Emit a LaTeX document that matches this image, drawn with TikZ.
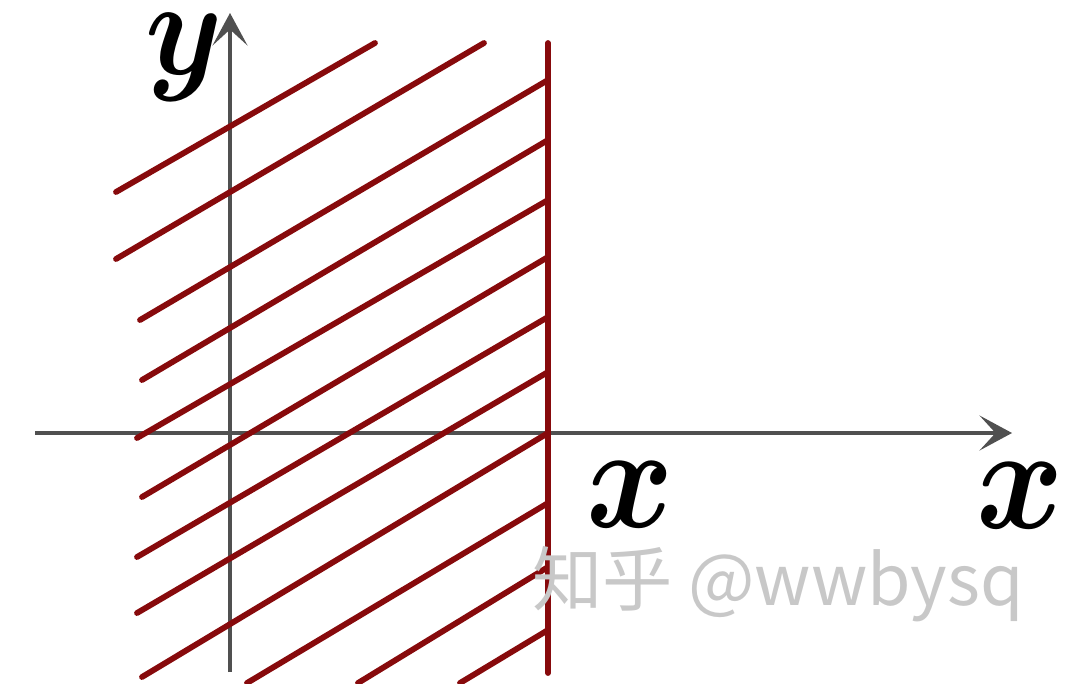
\RequirePackage{fix-cm}
\documentclass[tikz,border=0pt]{standalone}
\usepackage{bm}
\usepackage{fontspec}
\setmainfont{Liberation Serif}
\newfontfamily\cjkfont{Noto Sans CJK SC}
\usepackage{xcolor}
\usepackage{tikz}
\usetikzlibrary{
  arrows.meta,
  positioning
}
\definecolor{HatchRed}{RGB}{135, 10, 12}
\definecolor{AxisGray}{RGB}{80, 80, 80}
\definecolor{MarkGray}{RGB}{200, 200, 200}

\begin{document}
\begin{tikzpicture}[x=0.02cm, y=-0.02cm,
    axisline/.style={draw=AxisGray, line width=1.9pt,
        -{Stealth[length=6.5mm, width=7mm, inset=3.2mm]}},
    hatchline/.style={draw=HatchRed, line width=3.3pt, line cap=round},
    varlabel/.style={inner sep=0pt, anchor=base,
        font=\fontsize{84}{84}\selectfont, xscale=0.9, transform shape}
]
    \useasboundingbox (0,0) rectangle (1077,683);
    % axes
    \coordinate (xstart) at (35,433);
    \coordinate (xend) at (1012,433);
    \coordinate (ystart) at (230,672);
    \coordinate (yend) at (230,13);
    \draw[axisline] (xstart) -- (xend);
    \draw[axisline] (ystart) -- (yend);
    % hatching, each stroke from its left end to its right end
    \foreach \xa/\ya/\xb/\yb in {116/192/375/43, 116/259/484/43,
        140/320/548/80, 142/380/548/140, 137/438/548/200,
        142/497/548/257, 137/557/548/317, 137/613/548/372,
        142/677/548/433, 247/683/548/503, 358/683/548/567,
        460/683/548/630}
        \draw[hatchline] (\xa,\ya) -- (\xb,\yb);
    % boundary line
    \coordinate (btop) at (548,43);
    \coordinate (bbot) at (548,673);
    \draw[hatchline] (btop) -- (bbot);
    % labels
    \node[varlabel, font=\fontsize{78}{78}\selectfont] (ylab) at (184,74) {$\bm{y}$};
    \node[varlabel] (xlab) at (630,527) {$\bm{x}$};
    \node[varlabel] (xaxislab) at (1020,528) {$\bm{x}$};
    \node[text=MarkGray, inner sep=0pt, font=\cjkfont\fontsize{40}{40}\selectfont] (mark) at (778,584) {知乎 @wwbysq};
\end{tikzpicture}
\end{document}
